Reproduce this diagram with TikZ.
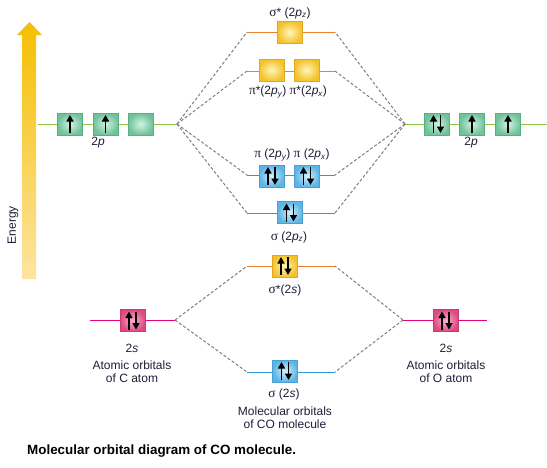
\documentclass[tikz,border=0pt]{standalone}
\usepackage{fontspec}
\setmainfont{Liberation Sans}
\newfontfamily\grk[Scale=1.12]{Liberation Serif}
\usetikzlibrary{arrows.meta}
\definecolor{txt}{HTML}{1E1E38}
\definecolor{gline}{HTML}{8DC63F}
\definecolor{oline}{HTML}{EE7F2D}
\definecolor{bline}{HTML}{2C9AD8}
\definecolor{mline}{HTML}{E6007E}
\definecolor{gin}{HTML}{D2F3E2}\definecolor{gout}{HTML}{6FC29A}\definecolor{gedge}{HTML}{5AAE86}
\definecolor{yin}{HTML}{FFF6B8}\definecolor{yout}{HTML}{F5C22E}\definecolor{yedge}{HTML}{E0A820}
\definecolor{bin}{HTML}{D8EFFB}\definecolor{bout}{HTML}{5BB5E5}\definecolor{bedge}{HTML}{4AA0D0}
\definecolor{pin}{HTML}{F7B3CD}\definecolor{pout}{HTML}{DE4A80}\definecolor{pedge}{HTML}{C83A70}
\definecolor{enTop}{HTML}{F5BF00}\definecolor{enBot}{HTML}{FDE4A2}
\definecolor{dgray}{HTML}{7F7F7F}
\newcommand\mysb[1]{\textsubscript{\itshape #1}}
\tikzset{
  orbbox/.style={rectangle, minimum width=25pt, minimum height=22pt, inner sep=0pt, line width=0.5pt},
  greenbox/.style={orbbox, inner color=gin, outer color=gout, draw=gedge},
  yellowbox/.style={orbbox, inner color=yin, outer color=yout, draw=yedge},
  bluebox/.style={orbbox, inner color=bin, outer color=bout, draw=bedge},
  pinkbox/.style={orbbox, inner color=pin, outer color=pout, draw=pedge},
  elec/.style={line width=1.6pt, black, -{Triangle[length=6.5pt,width=7pt]}},
  elup/.pic={\draw[elec] (0,9) -- (0,-9);},
  elpair/.pic={\draw[elec] (-3.5,9) -- (-3.5,-9); \draw[elec] (3.5,-9) -- (3.5,9);},
  conn/.style={dgray, line width=1pt, dash pattern=on 3pt off 2pt},
  lvl/.style={line width=1pt},
  lbl/.style={inner sep=0pt}
}
\begin{document}
\begin{tikzpicture}[x=1pt,y=-1pt,font=\fontsize{12}{13}\selectfont,text=txt]
\useasboundingbox (0,0) rectangle (547,467);
\fill[white] (0,0) rectangle (547,467);
% energy arrow
\shade[top color=enTop, bottom color=enBot] (22,279) -- (22,35) -- (17,35) -- (29.5,22) -- (42,35) -- (36,35) -- (36,279) -- cycle;
\node[rotate=90,lbl] (energy) at (13,225) {Energy};
% coordinates
\coordinate (L2pA) at (38,124); \coordinate (L2pB) at (177,124);
\coordinate (R2pA) at (405,124); \coordinate (R2pB) at (547,124);
\coordinate (L2sA) at (90,320); \coordinate (L2sB) at (175,320);
\coordinate (R2sA) at (403,320); \coordinate (R2sB) at (487,320);
\foreach \n/\yy in {sz*/32, pp*/71, pp/175, sz/213, ss*/266, ss/372}{
  \coordinate (\n A) at (247,\yy); \coordinate (\n B) at (335,\yy);
}
% level lines
\draw[lvl,gline] (L2pA) -- (L2pB);
\draw[lvl,gline] (R2pA) -- (R2pB);
\draw[lvl,mline] (L2sA) -- (L2sB);
\draw[lvl,mline] (R2sA) -- (R2sB);
\draw[lvl,oline] (sz*A) -- (sz*B);
\draw[lvl,oline] (pp*A) -- (pp*B);
\draw[lvl,bline] (ppA) -- (ppB);
\draw[lvl,bline] (szA) -- (szB);
\draw[lvl,oline] (ss*A) -- (ss*B);
\draw[lvl,bline] (ssA) -- (ssB);
% connectors
\foreach \n in {sz*, pp*, pp, sz}{
  \draw[conn] (L2pB) -- (\n A);
  \draw[conn] (R2pA) -- (\n B);
}
\foreach \n in {ss*, ss}{
  \draw[conn] (L2sB) -- (\n A);
  \draw[conn] (R2sA) -- (\n B);
}
% boxes
\node[greenbox] (g1) at (70,124) {};
\node[greenbox] (g2) at (105.5,124) {};
\node[greenbox] (g3) at (140.5,124) {};
\node[greenbox] (g4) at (437,124) {};
\node[greenbox] (g5) at (472,124) {};
\node[greenbox] (g6) at (508,124) {};
\node[yellowbox] (y1) at (289.5,32.5) {};
\node[yellowbox] (y2) at (271.5,70) {};
\node[yellowbox] (y3) at (306.5,70) {};
\node[bluebox] (b1) at (271.5,176) {};
\node[bluebox] (b2) at (307,176) {};
\node[bluebox] (b3) at (290,212.5) {};
\node[yellowbox] (y4) at (284.5,266) {};
\node[bluebox] (b4) at (285,371) {};
\node[pinkbox] (p1) at (132.5,320.5) {};
\node[pinkbox] (p2) at (445.5,320.5) {};
% electrons
\pic at (g1) {elup}; \pic at (g2) {elup};
\pic at (g4) {elpair}; \pic at (g5) {elup}; \pic at (g6) {elup};
\pic at (b1) {elpair}; \pic at (b2) {elpair}; \pic at (b3) {elpair};
\pic at (y4) {elpair}; \pic at (b4) {elpair};
\pic at (p1) {elpair}; \pic at (p2) {elpair};
% labels
\node[lbl] (l2pL) at (98,143) {2\textit{p}};
\node[lbl] (l2pR) at (471,143) {2\textit{p}};
\node[lbl] (lsz*) at (290,13) {{\grk σ}* (2\textit{p}\mysb{z})};
\node[lbl] (lpp*) at (288,92) {{\grk π}*(2\textit{p}\mysb{y}) {\grk π}*(2\textit{p}\mysb{x})};
\node[lbl] (lpp) at (292,155) {{\grk π} (2\textit{p}\mysb{y}) {\grk π} (2\textit{p}\mysb{x})};
\node[lbl] (lsz) at (289,237) {{\grk σ} (2\textit{p}\mysb{z})};
\node[lbl] (lss*) at (285,290) {{\grk σ}*(2\textit{s})};
\node[lbl] (lss) at (284,394) {{\grk σ} (2\textit{s})};
\node[lbl,align=center] (lmo) at (285,418) {Molecular orbitals\\of CO molecule};
\node[lbl] (l2sL) at (132,348) {2\textit{s}};
\node[lbl,align=center] (laoL) at (132,371.5) {Atomic orbitals\\of C atom};
\node[lbl] (l2sR) at (446,348) {2\textit{s}};
\node[lbl,align=center] (laoR) at (446,371.5) {Atomic orbitals\\of O atom};
\node[anchor=west,inner sep=0pt,text=black,font=\fontsize{13.4}{15}\selectfont\bfseries] (cap) at (27,451) {Molecular orbital diagram of CO molecule.};
\end{tikzpicture}
\end{document}
